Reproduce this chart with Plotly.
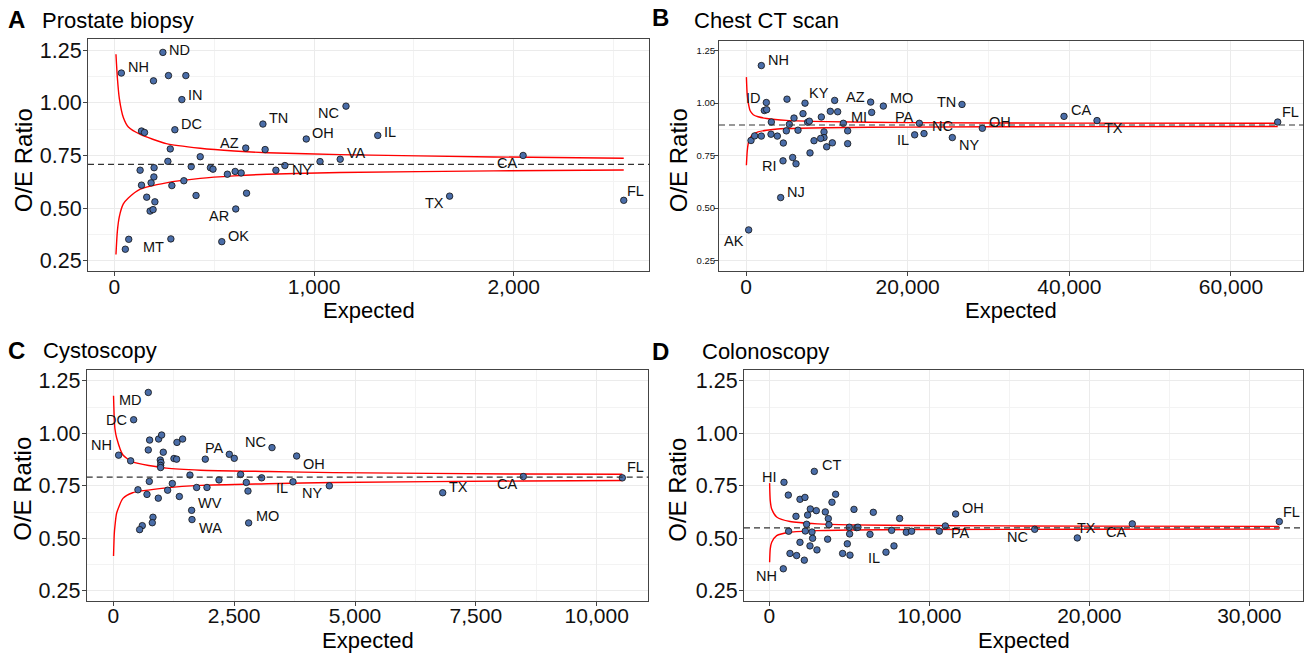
import plotly.graph_objects as go

# ---------------- DATA ----------------
# Panel A: Prostate biopsy
A_expected = [35, 243, 196, 271, 358, 338, 303, 136, 151, 744, 961, 658, 755, 280, 430, 268, 385, 481, 494,
              199, 129, 198, 809, 854, 1030, 1131, 566, 605, 635, 662, 608, 538, 409, 348, 288, 136, 184,
              162, 203, 179, 194, 72, 55, 283, 1160, 1319, 2047, 1679, 2551]
A_ratio = [1.141, 1.239, 1.104, 1.129, 1.129, 1.015, 0.872, 0.866, 0.859, 0.899, 0.828, 0.785, 0.778, 0.781,
           0.744, 0.722, 0.697, 0.692, 0.685, 0.692, 0.680, 0.648, 0.680, 0.702, 0.721, 0.732, 0.661, 0.674,
           0.667, 0.571, 0.496, 0.341, 0.560, 0.630, 0.607, 0.609, 0.620, 0.552, 0.530, 0.486, 0.493, 0.352,
           0.305, 0.354, 0.984, 0.845, 0.750, 0.557, 0.537]
A_state = ["NH", "ND", "", "", "", "IN", "DC", "", "", "TN", "OH", "AZ", "", "", "", "", "", "", "",
           "", "", "", "", "NY", "", "VA", "", "", "", "", "AR", "OK", "", "", "", "", "",
           "", "", "", "", "", "", "MT", "NC", "IL", "CA", "TX", "FL"]
A_mean = 0.708
A_fx = [8, 15, 25, 45, 70, 130, 260, 430, 600, 765, 1130, 1900, 2551]
A_upper = [1.23, 1.12, 1.02, 0.93, 0.885, 0.85, 0.806, 0.784, 0.771, 0.763, 0.754, 0.743, 0.737]
A_lower = [0.28, 0.39, 0.46, 0.52, 0.548, 0.59, 0.62, 0.641, 0.653, 0.661, 0.669, 0.677, 0.681]

# Panel B: Chest CT scan
B_expected = [1897, 2516, 2268, 2557, 5073, 7300, 10970, 15424, 7052, 5939, 9320, 10434, 11341, 15548, 16991,
              26724, 12042, 7629, 7835, 5361, 3134, 3093, 3877, 4619, 4990, 6433, 9650, 9650, 9238, 8413,
              9980, 10681, 12578, 12578, 7918, 4578, 5774, 6186, 619, 1072, 1897, 4289, 330, 21445, 20867,
              22022, 25527, 29240, 39342, 43425, 65780]
B_ratio = [1.179, 1.003, 0.965, 0.969, 1.019, 1.000, 1.013, 1.005, 0.950, 0.929, 0.934, 0.961, 0.959, 0.956,
           0.986, 0.994, 0.904, 0.909, 0.914, 0.899, 0.910, 0.852, 0.843, 0.810, 0.868, 0.871, 0.863, 0.836,
           0.832, 0.821, 0.792, 0.811, 0.868, 0.807, 0.763, 0.725, 0.741, 0.711, 0.822, 0.844, 0.843, 0.550,
           0.396, 0.904, 0.849, 0.855, 0.836, 0.880, 0.937, 0.917, 0.910]
B_state = ["NH", "ID", "", "", "", "", "KY", "AZ", "", "", "", "", "", "", "MO",
           "TN", "MI", "", "", "", "", "", "", "", "", "", "", "", "", "",
           "", "", "", "", "", "RI", "", "", "", "", "", "NJ", "AK", "PA", "IL",
           "NC", "NY", "OH", "CA", "TX", "FL"]
B_mean = 0.896
B_fx = [50, 150, 290, 500, 900, 1500, 2550, 5000, 10000, 20000, 40000, 65780]
B_upper = [1.124, 1.04, 1.0, 0.965, 0.945, 0.935, 0.927, 0.918, 0.912, 0.907, 0.905, 0.904]
B_lower = [0.704, 0.77, 0.81, 0.835, 0.852, 0.863, 0.871, 0.879, 0.883, 0.886, 0.888, 0.889]

# Panel C: Cystoscopy
C_expected = [724, 421, 110, 359, 752, 938, 1000, 1434, 1317, 724, 1034, 972, 986, 979, 979, 1255, 1310, 1903,
              2400, 2503, 3283, 3793, 1586, 2634, 2186, 2752, 3069, 3717, 4469, 1221, 745, 510, 697, 931,
              1124, 1366, 1724, 1938, 2786, 1621, 1628, 2800, 821, 807, 600, 545, 6814, 8482, 10530]
C_ratio = [1.195, 1.065, 0.896, 0.869, 0.968, 0.973, 0.992, 0.973, 0.957, 0.921, 0.910, 0.873, 0.861, 0.847,
           0.837, 0.880, 0.877, 0.877, 0.900, 0.881, 0.932, 0.892, 0.801, 0.804, 0.778, 0.766, 0.788, 0.769,
           0.750, 0.761, 0.771, 0.731, 0.709, 0.691, 0.729, 0.699, 0.742, 0.742, 0.725, 0.633, 0.589, 0.573,
           0.600, 0.574, 0.560, 0.541, 0.717, 0.794, 0.788]
C_state = ["MD", "DC", "NH", "", "", "", "", "", "", "", "", "", "", "", "", "", "", "",
           "PA", "", "NC", "OH", "", "", "", "", "", "IL", "NY", "", "", "", "", "",
           "", "", "", "", "", "WV", "WA", "MO", "", "", "", "", "TX", "CA", "FL"]
C_mean = 0.791
C_fx = [5, 20, 35, 70, 200, 400, 1100, 1800, 3200, 4550, 8500, 10530]
C_upper = [1.179, 1.07, 1.02, 0.978, 0.897, 0.864, 0.834, 0.824, 0.818, 0.813, 0.806, 0.805]
C_lower = [0.415, 0.52, 0.56, 0.62, 0.69, 0.717, 0.740, 0.752, 0.760, 0.766, 0.773, 0.775]

# Panel D: Colonoscopy
D_expected = [917, 2813, 1188, 1917, 2229, 4146, 3917, 1667, 2396, 2563, 2938, 3500, 5292, 6500, 8146, 11646,
              3688, 2333, 3729, 5000, 5458, 5540, 1208, 2250, 2667, 5021, 7646, 8563, 8896, 10625, 11000,
              6292, 2708, 3646, 1917, 2542, 2979, 4875, 4583, 5042, 1292, 1708, 2188, 7292, 7792, 875,
              16588, 19250, 22688, 31875]
D_ratio = [0.767, 0.819, 0.706, 0.686, 0.695, 0.710, 0.672, 0.605, 0.611, 0.640, 0.632, 0.626, 0.638, 0.624,
           0.595, 0.616, 0.594, 0.567, 0.565, 0.553, 0.551, 0.553, 0.534, 0.535, 0.530, 0.521, 0.538, 0.529,
           0.534, 0.534, 0.559, 0.519, 0.500, 0.496, 0.481, 0.464, 0.445, 0.474, 0.428, 0.420, 0.428, 0.418,
           0.396, 0.434, 0.464, 0.355, 0.543, 0.502, 0.569, 0.580]
D_state = ["HI", "CT", "", "", "", "", "", "", "", "", "", "", "", "", "", "OH",
           "", "", "", "", "", "", "", "", "", "", "", "", "", "", "PA",
           "", "", "", "", "", "", "", "", "", "", "", "", "IL", "", "NH",
           "NC", "TX", "CA", "FL"]
D_mean = 0.550
D_fx = [20, 60, 150, 460, 1300, 3000, 5000, 9200, 20000, 31875]
D_upper = [0.763, 0.68, 0.64, 0.602, 0.580, 0.569, 0.564, 0.561, 0.558, 0.557]
D_lower = [0.386, 0.45, 0.481, 0.513, 0.529, 0.537, 0.540, 0.542, 0.543, 0.544]

titles = ["Prostate biopsy", "Chest CT scan", "Cystoscopy", "Colonoscopy"]
letters = ["A", "B", "C", "D"]
x_dticks = [1000, 20000, 2500, 10000]

# ---------------- STYLE / LAYOUT ----------------
W, H = 1311, 658
FONT = "Liberation Sans, Arial, sans-serif"

def px(x):
    return x / W

def py(y):
    return 1 - y / H

# plot frames in pixels (left, right, top, bottom)
frames = [(88, 649.3, 38.3, 271.7), (719, 1303.3, 40, 271.7),
          (86.7, 648.3, 370.7, 602.7), (744, 1303.3, 370.7, 602.7)]
x_ranges = [[-132, 2679], [-3340, 68947], [-550, 11067], [-1581, 33375]]
y_ranges = [[0.1995, 1.302], [0.198, 1.297], [0.201, 1.302], [0.2017, 1.302]]
ytick_sizes = [21.5, 9.5, 21.5, 21.5]

# label offsets in pixels (dx right, dy up)
offsets = [
    {"NH": (17, 6), "ND": (17, 2), "IN": (14, 5), "DC": (17, 6), "TN": (16, 6), "OH": (17, 6),
     "AZ": (-16, 5), "NY": (17, -4), "AR": (-17, -7), "OK": (17, 6), "MT": (-17, -8), "NC": (-17, -7),
     "IL": (12, 3), "VA": (16, 6), "CA": (-16, -8), "TX": (-15, -7), "FL": (12, 9)},
    {"NH": (17, 6), "ID": (-13, 5), "KY": (-16, 7), "AZ": (-15, 5), "MO": (18, 8), "MI": (16, 6),
     "TN": (-16, 2), "PA": (-15, 6), "NC": (18, 8), "IL": (-12, -5), "NY": (17, -7), "RI": (-14, -5),
     "NJ": (15, 6), "AK": (-15, -11), "OH": (18, 6), "CA": (17, 6), "TX": (16, -7), "FL": (13, 10)},
    {"MD": (-18, -8), "DC": (-17, 0), "NH": (-17, 10), "PA": (-15, 6), "NC": (-17, 6), "OH": (17, -8),
     "IL": (-11, -6), "NY": (-17, -7), "WV": (18, 7), "WA": (19, -8), "MO": (19, 7), "TX": (16, 6),
     "CA": (-16, -7), "FL": (13, 11)},
    {"HI": (-14, 5), "CT": (17, 6), "OH": (17, 6), "PA": (15, -7), "IL": (-12, -6), "NH": (-17, -7),
     "NC": (-17, -8), "TX": (9, 10), "CA": (-16, -8), "FL": (12, 10)},
]

panels = [
    (A_expected, A_ratio, A_state, A_mean, A_fx, A_upper, A_lower),
    (B_expected, B_ratio, B_state, B_mean, B_fx, B_upper, B_lower),
    (C_expected, C_ratio, C_state, C_mean, C_fx, C_upper, C_lower),
    (D_expected, D_ratio, D_state, D_mean, D_fx, D_upper, D_lower),
]

fig = go.Figure()
annotations = []
shapes = []
layout = {}

for i, (ex, ra, st, mean, fx, up, lo) in enumerate(panels):
    n = "" if i == 0 else str(i + 1)
    xa, ya = "x" + n, "y" + n
    l, r, t, b = frames[i]
    # funnel limits
    for arr in (up, lo):
        fig.add_trace(go.Scatter(x=fx, y=arr, mode="lines", xaxis=xa, yaxis=ya,
                                 line=dict(color="#FF0000", width=1.4, shape="spline", smoothing=0.6),
                                 hoverinfo="skip", showlegend=False))
    # points
    fig.add_trace(go.Scatter(x=ex, y=ra, mode="markers", xaxis=xa, yaxis=ya, text=st,
                             marker=dict(size=6.5, color="#4A6DA8", line=dict(color="#111111", width=0.8)),
                             showlegend=False))
    # mean dashed line
    shapes.append(dict(type="line", xref=xa + " domain", yref=ya, x0=0, x1=1, y0=mean, y1=mean,
                       line=dict(color="#333333", width=1.2, dash="6px,4px"), layer="above"))
    # state labels
    for xv, yv, s in zip(ex, ra, st):
        if s:
            dx, dy = offsets[i].get(s, (15, 6))
            annotations.append(dict(x=xv, y=yv, xref=xa, yref=ya, text=s, showarrow=False,
                                    xshift=dx, yshift=dy, xanchor="center", yanchor="middle",
                                    font=dict(family=FONT, size=14.5, color="#111111")))
    axis_common = dict(showline=True, mirror=True, linecolor="#444444", linewidth=1,
                       ticks="outside", ticklen=4, tickcolor="#444444", zeroline=False,
                       showgrid=True, gridcolor="#EBEBEB", gridwidth=1)
    layout["xaxis" + n] = dict(domain=[px(l), px(r)], range=x_ranges[i], anchor=ya,
                               tick0=0, dtick=x_dticks[i], tickformat=",d",
                               tickfont=dict(family=FONT, size=21, color="#111111"),
                               ticklabelstandoff=-8,
                               minor=dict(dtick=x_dticks[i] / 2, tick0=0, showgrid=True,
                                          gridcolor="#F3F3F3", gridwidth=0.8, ticklen=0),
                               **axis_common)
    layout["yaxis" + n] = dict(domain=[py(b), py(t)], range=y_ranges[i], anchor=xa,
                               tick0=0.25, dtick=0.25, tickformat=".2f",
                               tickfont=dict(family=FONT, size=ytick_sizes[i], color="#111111"),
                               ticklabelstandoff=-3,
                               minor=dict(dtick=0.125, tick0=0.125, showgrid=True,
                                          gridcolor="#F3F3F3", gridwidth=0.8, ticklen=0),
                               **axis_common)

# panel letters, titles, axis titles
letter_pos = [(16, 19), (660, 17), (16, 351), (660, 352.5)]
title_pos = [(40, 19.5), (691.7, 19.5), (40.7, 351.5), (700, 352)]
xtitle_pos = [(368.7, 311), (1011, 311), (367.5, 642.5), (1023.7, 642.5)]
ytitle_pos = [(23, 160), (678, 160), (23, 490), (678, 491)]
for i in range(4):
    annotations.append(dict(x=px(letter_pos[i][0]), y=py(letter_pos[i][1]), xref="paper", yref="paper",
                            text="<b>" + letters[i] + "</b>", showarrow=False, xanchor="center",
                            yanchor="middle", font=dict(family=FONT, size=24, color="black")))
    annotations.append(dict(x=px(title_pos[i][0]), y=py(title_pos[i][1]), xref="paper", yref="paper",
                            text=titles[i], showarrow=False, xanchor="left", yanchor="middle",
                            font=dict(family=FONT, size=22, color="black")))
    annotations.append(dict(x=px(xtitle_pos[i][0]), y=py(xtitle_pos[i][1]), xref="paper", yref="paper",
                            text="Expected", showarrow=False, xanchor="center", yanchor="middle",
                            font=dict(family=FONT, size=22, color="black")))
    annotations.append(dict(x=px(ytitle_pos[i][0]), y=py(ytitle_pos[i][1]), xref="paper", yref="paper",
                            text="O/E Ratio", showarrow=False, xanchor="center", yanchor="middle",
                            textangle=-90, font=dict(family=FONT, size=24, color="black")))

fig.update_layout(width=W, height=H, margin=dict(l=0, r=0, t=0, b=0),
                  paper_bgcolor="white", plot_bgcolor="white",
                  annotations=annotations, shapes=shapes, **layout)

fig.write_html("out.html", config={"displayModeBar": False},
               post_script="document.body.style.margin='0';document.body.style.padding='0';"
                           "document.documentElement.style.overflow='hidden';")
